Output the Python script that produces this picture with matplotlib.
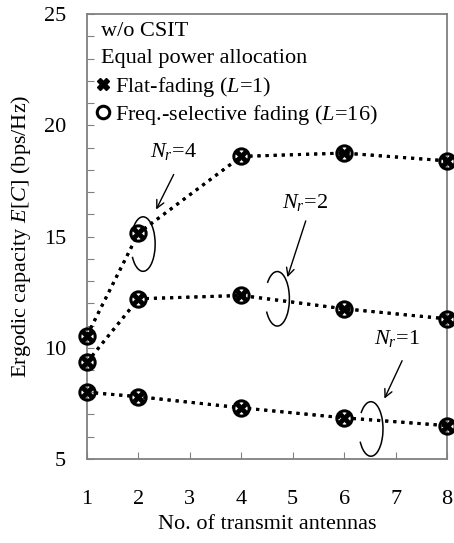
import numpy as np
import matplotlib.pyplot as plt
from matplotlib.lines import Line2D
from matplotlib.patches import Arc

plt.rcParams['font.family'] = ['Liberation Serif', 'DejaVu Serif']
plt.rcParams['mathtext.fontset'] = 'custom'
plt.rcParams['mathtext.rm'] = 'Liberation Serif'
plt.rcParams['mathtext.it'] = 'Liberation Serif:italic'

# transmit antennas
tx = [1, 2, 4, 6, 8]

# ergodic capacity (bps/Hz), flat fading L=1
flat_nr1 = [8.0, 7.8, 7.3, 6.85, 6.5]
flat_nr2 = [9.35, 12.2, 12.35, 11.75, 11.3]
flat_nr4 = [10.55, 15.15, 18.6, 18.75, 18.4]

# freq.-selective fading L=16
sel_nr1 = [8.0, 7.8, 7.3, 6.85, 6.5]
sel_nr2 = [9.35, 12.2, 12.35, 11.75, 11.3]
sel_nr4 = [10.55, 15.15, 18.6, 18.75, 18.4]

gray = '#808080'

fig = plt.figure(figsize=(4.54, 5.43), dpi=100)
ax = fig.add_axes([0.1916, 0.1547, 0.793, 0.8195])

for ys in [flat_nr1, flat_nr2, flat_nr4]:
    ax.plot(tx, ys, linestyle=':', color='k', lw=2.2, marker='X', ms=8,
            mfc='k', mec='k', mew=0.5, clip_on=False, zorder=3)
for ys in [sel_nr1, sel_nr2, sel_nr4]:
    ax.plot(tx, ys, linestyle=':', color='k', lw=2.2, marker='o', ms=11,
            mfc='none', mec='k', mew=2.2, clip_on=False, zorder=3)

ax.set_xlim(1, 8)
ax.set_ylim(5, 25)
ax.set_xticks(range(1, 9))
ax.set_yticks(range(5, 26))
ax.set_yticklabels([str(v) if v % 5 == 0 else '' for v in range(5, 26)])
ax.tick_params(direction='in', color=gray, length=5, labelsize=16)
ax.tick_params(axis='y', pad=15)
ax.tick_params(axis='x', pad=22)
for s in ax.spines.values():
    s.set_color(gray)
    s.set_linewidth(1.3)

ax.set_xlabel('No. of transmit antennas', fontsize=16, labelpad=5)
ax.set_ylabel('Ergodic capacity $E$[$C$] (bps/Hz)', fontsize=16, labelpad=8)

# annotations: N_r groups
groups = [
    ('$N_r$=4', (2.68, 18.8), (2.71, 17.9), (2.32, 16.1), (2.09, 14.66)),
    ('$N_r$=2', (5.24, 16.55), (5.27, 15.82), (4.88, 13.05), (4.7, 12.2)),
    ('$N_r$=1', (7.02, 10.4), (7.15, 9.53), (6.76, 7.6), (6.52, 6.35)),
]
for lab, tpos, a0, a1, c in groups:
    ax.text(tpos[0], tpos[1], lab, fontsize=16, ha='center', va='center')
    ax.annotate('', xy=a1, xytext=a0,
                arrowprops=dict(arrowstyle='->', color='k', lw=1,
                                mutation_scale=14))
    ax.add_patch(Arc(c, 0.47, 2.45, angle=0, theta1=-110, theta2=105,
                     color='k', lw=1.1))

ax.text(0.038, 0.96, 'w/o CSIT', transform=ax.transAxes, fontsize=16,
        va='center', ha='left')
ax.text(0.038, 0.899, 'Equal power allocation', transform=ax.transAxes,
        fontsize=16, va='center', ha='left')

handles = [
    Line2D([], [], ls='none', marker='X', ms=8, mfc='k', mec='k'),
    Line2D([], [], ls='none', marker='o', ms=9, mfc='none', mec='k', mew=2.2),
]
labels = ['Flat-fading ($L$=1)', 'Freq.-selective fading ($L$=16)']
ax.legend(handles, labels, loc='upper left', bbox_to_anchor=(0.028, 0.864),
          frameon=False, fontsize=16, handlelength=0.5, handletextpad=0.3,
          labelspacing=0.2, borderpad=0.0, borderaxespad=0.0)

fig.savefig('out.png', dpi=100)
